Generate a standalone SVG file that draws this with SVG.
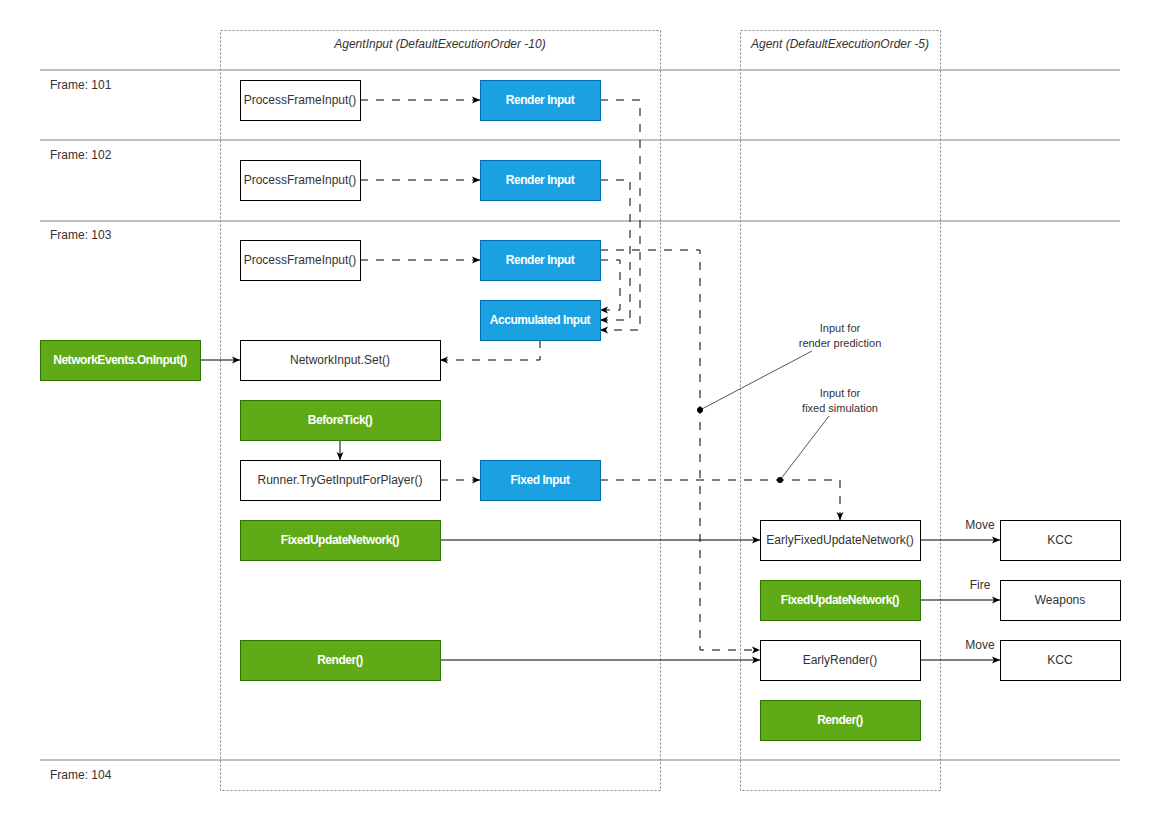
<svg xmlns="http://www.w3.org/2000/svg" width="1161" height="820" viewBox="0 0 1161 820">
<defs>
<marker id="arr" viewBox="0 0 8 8" refX="8" refY="4" markerWidth="8" markerHeight="8" markerUnits="userSpaceOnUse" orient="auto">
<path d="M0,0.5 L8,4 L0,7.5 L2,4 Z" fill="#000"/>
</marker>
<style>
text{font-family:"Liberation Sans",Arial,Helvetica,sans-serif;font-size:12px;}
.hdr{font-style:italic;fill:#333;text-anchor:middle;}
.frame{fill:#333;}
.w rect{fill:#fff;stroke:#000;stroke-width:1;}
.w text{fill:#333;text-anchor:middle;}
.b rect{fill:#1ba1e2;stroke:#006eaf;stroke-width:1;}
.b text{fill:#fff;font-weight:bold;text-anchor:middle;letter-spacing:-0.45px;}
.g rect{fill:#60a917;stroke:#2d7600;stroke-width:1;}
.g text{fill:#fff;font-weight:bold;text-anchor:middle;letter-spacing:-0.45px;}
.lane{stroke:#808080;stroke-width:1;fill:none;}
.cont{fill:none;stroke:#808080;stroke-width:1;stroke-dasharray:2 2;}
.dash{fill:none;stroke:#000;stroke-width:1;stroke-dasharray:8 8;marker-end:url(#arr);}
.solid{fill:none;stroke:#000;stroke-width:1;marker-end:url(#arr);}
.note{fill:none;stroke:#555;stroke-width:1;}
.elbl{fill:#333;text-anchor:middle;}
.ann{fill:#333;text-anchor:middle;font-size:11px;}
</style>
</defs>
<rect x="0" y="0" width="1161" height="820" fill="#fff"/>

<g id="lanes">
<line class="lane" x1="40" y1="70" x2="1120" y2="70"/>
<line class="lane" x1="40" y1="140" x2="1120" y2="140"/>
<line class="lane" x1="40" y1="221" x2="1120" y2="221"/>
<line class="lane" x1="40" y1="760" x2="1120" y2="760"/>
<text class="frame" x="50" y="89">Frame: 101</text>
<text class="frame" x="50" y="159">Frame: 102</text>
<text class="frame" x="50" y="239">Frame: 103</text>
<text class="frame" x="50" y="779">Frame: 104</text>
</g>

<g id="container-agentinput">
<rect class="cont" x="220.5" y="30.5" width="440" height="760"/>
<text class="hdr" x="440" y="48">AgentInput (DefaultExecutionOrder -10)</text>
</g>
<g id="container-agent">
<rect class="cont" x="740.5" y="30.5" width="200" height="760"/>
<text class="hdr" x="840" y="48">Agent (DefaultExecutionOrder -5)</text>
</g>

<g id="connectors">
<path class="dash" d="M360,100 H480"/>
<path class="dash" d="M360,180 H480"/>
<path class="dash" d="M360,260 H480"/>
<path class="dash" d="M600,100 H640 V330 H600"/>
<path class="dash" d="M600,180 H630 V320 H600"/>
<path class="dash" d="M600,260 H620 V310 H600"/>
<path class="dash" d="M600,250 H700 V650 H760"/>
<path class="dash" d="M540,340 V360 H440"/>
<path class="dash" d="M440,480 H480"/>
<path class="dash" d="M600,480 H840 V520"/>
<path class="solid" d="M200,360 H240"/>
<path class="solid" d="M340,440 V460"/>
<path class="solid" d="M440,540 H760"/>
<path class="solid" d="M440,660 H760"/>
<path class="solid" d="M920,540 H1000"/>
<path class="solid" d="M920,600 H1000"/>
<path class="solid" d="M920,660 H1000"/>
<text class="elbl" x="980" y="529">Move</text>
<text class="elbl" x="980" y="589">Fire</text>
<text class="elbl" x="980" y="649">Move</text>
<line class="note" x1="700" y1="410" x2="812" y2="351"/>
<line class="note" x1="780" y1="480" x2="829" y2="416"/>
<circle cx="700" cy="410" r="3" fill="#000"/>
<circle cx="780" cy="480" r="3" fill="#000"/>
</g>

<g id="note-render-prediction">
<text class="ann" x="840" y="332">Input for</text>
<text class="ann" x="840" y="347">render prediction</text>
</g>
<g id="note-fixed-simulation">
<text class="ann" x="840" y="397">Input for</text>
<text class="ann" x="840" y="412">fixed simulation</text>
</g>

<g id="pfi1" class="w"><rect x="240.5" y="80.5" width="120" height="40"/><text x="300" y="104">ProcessFrameInput()</text></g>
<g id="pfi2" class="w"><rect x="240.5" y="160.5" width="120" height="40"/><text x="300" y="184">ProcessFrameInput()</text></g>
<g id="pfi3" class="w"><rect x="240.5" y="240.5" width="120" height="40"/><text x="300" y="264">ProcessFrameInput()</text></g>
<g id="ri1" class="b"><rect x="480.5" y="80.5" width="120" height="40"/><text x="540" y="104">Render Input</text></g>
<g id="ri2" class="b"><rect x="480.5" y="160.5" width="120" height="40"/><text x="540" y="184">Render Input</text></g>
<g id="ri3" class="b"><rect x="480.5" y="240.5" width="120" height="40"/><text x="540" y="264">Render Input</text></g>
<g id="acc" class="b"><rect x="480.5" y="300.5" width="120" height="40"/><text x="540" y="324">Accumulated Input</text></g>
<g id="oninput" class="g"><rect x="40.5" y="340.5" width="160" height="40"/><text x="120" y="364">NetworkEvents.OnInput()</text></g>
<g id="niset" class="w"><rect x="240.5" y="340.5" width="200" height="40"/><text x="340" y="364">NetworkInput.Set()</text></g>
<g id="beforetick" class="g"><rect x="240.5" y="400.5" width="200" height="40"/><text x="340" y="424">BeforeTick()</text></g>
<g id="trygetinput" class="w"><rect x="240.5" y="460.5" width="200" height="40"/><text x="340" y="484">Runner.TryGetInputForPlayer()</text></g>
<g id="fixedinput" class="b"><rect x="480.5" y="460.5" width="120" height="40"/><text x="540" y="484">Fixed Input</text></g>
<g id="fun1" class="g"><rect x="240.5" y="520.5" width="200" height="40"/><text x="340" y="544">FixedUpdateNetwork()</text></g>
<g id="render1" class="g"><rect x="240.5" y="640.5" width="200" height="40"/><text x="340" y="664">Render()</text></g>
<g id="efun" class="w"><rect x="760.5" y="520.5" width="160" height="40"/><text x="840" y="544">EarlyFixedUpdateNetwork()</text></g>
<g id="fun2" class="g"><rect x="760.5" y="580.5" width="160" height="40"/><text x="840" y="604">FixedUpdateNetwork()</text></g>
<g id="erender" class="w"><rect x="760.5" y="640.5" width="160" height="40"/><text x="840" y="664">EarlyRender()</text></g>
<g id="render2" class="g"><rect x="760.5" y="700.5" width="160" height="40"/><text x="840" y="724">Render()</text></g>
<g id="kcc1" class="w"><rect x="1000.5" y="520.5" width="120" height="40"/><text x="1060" y="544">KCC</text></g>
<g id="weapons" class="w"><rect x="1000.5" y="580.5" width="120" height="40"/><text x="1060" y="604">Weapons</text></g>
<g id="kcc2" class="w"><rect x="1000.5" y="640.5" width="120" height="40"/><text x="1060" y="664">KCC</text></g>
</svg>
